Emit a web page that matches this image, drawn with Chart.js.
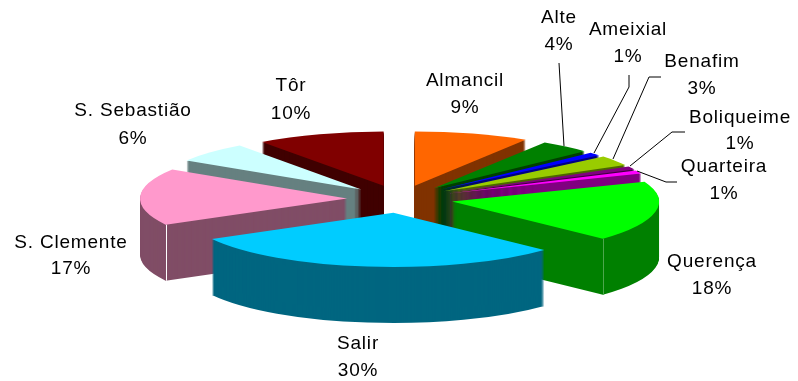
<!DOCTYPE html>
<html>
<head>
<meta charset="utf-8">
<title>Freguesias</title>
<style>
  html, body { margin: 0; padding: 0; background: #fff; }
  canvas { display: block; }
</style>
<script src="https://cdn.jsdelivr.net/npm/chart.js@4/dist/chart.umd.min.js"></script>
</head>
<body>
<canvas id="pie" width="798" height="381"></canvas>
<script>
// Share of each parish, in percent
const categories = ['Almancil', 'Alte', 'Ameixial', 'Benafim', 'Boliqueime', 'Quarteira',
                    'Querença', 'Salir', 'S. Clemente', 'S. Sebastião', 'Tôr'];
const shares = [9, 4, 1, 3, 1, 1, 18, 30, 17, 6, 10];

// Slice faces and their darker extruded walls
const topColors  = ['#FF6600', '#008000', '#0000FF', '#99CC00', '#800080', '#FF00FF',
                    '#00FF00', '#00CCFF', '#FF99CC', '#CCFFFF', '#800000'];
const wallColors = ['#803300', '#004000', '#000080', '#4D6600', '#400040', '#800080',
                    '#008000', '#006680', '#804D66', '#668080', '#400000'];

// Label centres: [x, y of name, y of percentage]
const labelSpots = [[465, 81, 108], [559, 18, 45], [628, 30, 57], [702, 62, 89], [740, 118, 144],
                    [724, 167, 194], [712, 262, 289], [358, 344, 371], [71, 243, 269],
                    [133, 111, 139], [291, 86, 114]];

// Leader lines for the labels set away from thin slices
const leaders = [
  [[559, 63], [564, 146]],
  [[629, 75], [629, 87], [594, 153]],
  [[661, 77], [649, 77], [613, 159]],
  [[685, 132], [672, 132], [630, 166]],
  [[677, 182], [666, 182], [637, 171]]
];

const TILT = 0.262;       // vertical squash of the pie disc
const DEPTH = 56;         // wall height in pixels
const RADIUS = 207;
const EXPLODE = 53;       // distance each slice is pulled out

const tilted3d = {
  id: 'tilted3d',
  beforeDatasetDraw(chart, args) {
    const { ctx } = chart;
    const arcs = args.meta.data;
    const mid = a => (a.startAngle + a.endAngle) / 2;
    const order = arcs.map((_, i) => i).sort((p, q) => Math.sin(mid(arcs[p])) - Math.sin(mid(arcs[q])));

    const drawFlat = (arc, dy, color) => {
      const saved = arc.options;
      const m = mid(arc);
      arc.options = { ...saved, backgroundColor: color, borderWidth: 0 };
      ctx.save();
      ctx.translate(Math.cos(m) * EXPLODE, arc.y + Math.sin(m) * EXPLODE * TILT + dy);
      ctx.scale(1, TILT);
      ctx.translate(0, -arc.y);
      arc.draw(ctx);
      ctx.restore();
      arc.options = saved;
    };

    order.forEach(i => {
      const arc = arcs[i];
      for (let dy = DEPTH; dy > 0; dy--) drawFlat(arc, dy, wallColors[i]);
      drawFlat(arc, 0, topColors[i]);
      // Light seam down the outer corner of the two large side slices
      if (i === 6 || i === 8) {
        const m = mid(arc);
        const edge = i === 6 ? arc.endAngle : arc.startAngle;
        const x = arc.x + Math.cos(m) * EXPLODE + Math.cos(edge) * RADIUS;
        const y = arc.y + (Math.sin(m) * EXPLODE + Math.sin(edge) * RADIUS) * TILT;
        ctx.save();
        ctx.strokeStyle = i === 8 ? '#FFFFFF' : '#4DA64D';
        ctx.lineWidth = 1;
        ctx.beginPath();
        ctx.moveTo(Math.round(x) + 0.5, y);
        ctx.lineTo(Math.round(x) + 0.5, y + DEPTH);
        ctx.stroke();
        ctx.restore();
      }
    });
    return false;
  },
  afterDraw(chart) {
    const { ctx } = chart;
    ctx.save();
    ctx.strokeStyle = '#000';
    ctx.lineWidth = 1;
    leaders.forEach(path => {
      ctx.beginPath();
      path.forEach(([x, y], k) => k ? ctx.lineTo(x, y) : ctx.moveTo(x, y));
      ctx.stroke();
    });
    ctx.fillStyle = '#000';
    ctx.font = '19px "Liberation Sans", Arial, sans-serif';
    ctx.letterSpacing = '0.8px';
    ctx.textAlign = 'center';
    ctx.textBaseline = 'middle';
    categories.forEach((name, i) => {
      const [x, y1, y2] = labelSpots[i];
      ctx.fillText(name, x, y1);
      ctx.fillText(shares[i] + '%', x, y2);
    });
    ctx.restore();
  }
};

new Chart(document.getElementById('pie'), {
  type: 'pie',
  data: {
    labels: categories,
    datasets: [{
      data: shares,
      backgroundColor: topColors,
      borderWidth: 0,
      clip: false
    }]
  },
  options: {
    responsive: false,
    animation: false,
    radius: RADIUS,
    layout: { padding: { top: 17, left: 2 } },
    plugins: { legend: { display: false }, tooltip: { enabled: false } }
  },
  plugins: [tilted3d]
});
</script>
</body>
</html>
